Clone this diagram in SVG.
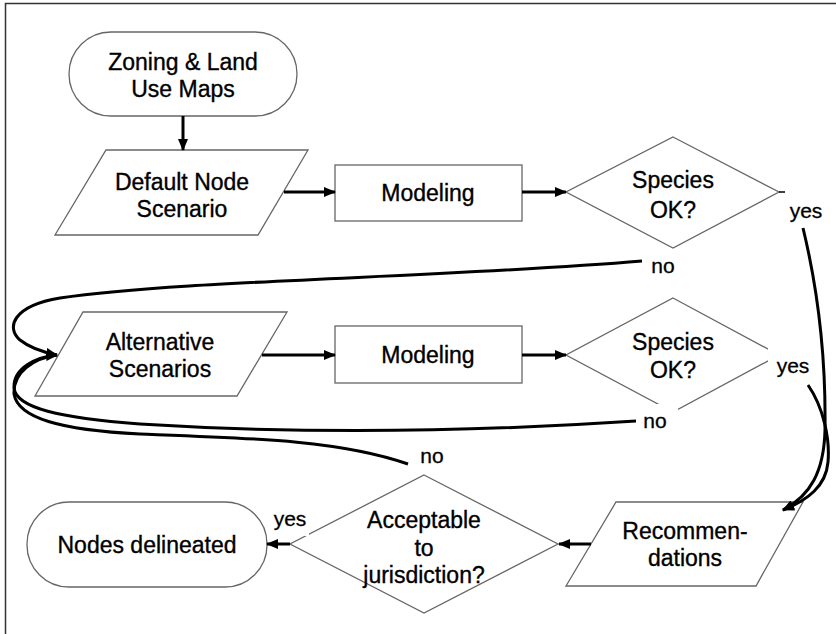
<svg xmlns="http://www.w3.org/2000/svg" width="836" height="634" viewBox="0 0 836 634">
<defs>
<style>
.shape{fill:#fff;stroke:#666;stroke-width:1.3}
.t{font-family:"Liberation Sans",Arial,sans-serif;font-size:23px;fill:#000;stroke:#000;stroke-width:0.35;text-anchor:middle}
.lbl{font-family:"Liberation Sans",Arial,sans-serif;font-size:21px;fill:#000;stroke:#000;stroke-width:0.3;text-anchor:middle}
.conn{fill:none;stroke:#000;stroke-width:3}
.mask{fill:#fff;stroke:none}
</style>
<marker id="ah" markerUnits="userSpaceOnUse" markerWidth="12" markerHeight="10" refX="11" refY="5" orient="auto">
<path d="M0,0 L12,5 L0,10 z" fill="#000"/>
</marker>
</defs>
<rect x="0" y="0" width="836" height="634" fill="#fff"/>
<rect x="5.5" y="3.5" width="840" height="640" fill="none" stroke="#333" stroke-width="1.5"/>

<g id="n_zoning">
<rect class="shape" x="69" y="32" width="228" height="84" rx="42" ry="42"/>
<text class="t" x="183" y="70">Zoning &amp; Land</text>
<text class="t" x="183" y="97">Use Maps</text>
</g>

<g id="n_default">
<polygon class="shape" points="106,150 308,150 258,235 55,235"/>
<text class="t" x="182" y="190">Default Node</text>
<text class="t" x="182" y="217">Scenario</text>
</g>

<g id="n_model1">
<rect class="shape" x="335" y="165" width="187" height="56"/>
<text class="t" x="428" y="201">Modeling</text>
</g>

<g id="n_species1">
<polygon class="shape" points="673,137 779,192 673,248 566,192"/>
<text class="t" x="673" y="188">Species</text>
<text class="t" x="673" y="218">OK?</text>
</g>

<g id="n_alt">
<polygon class="shape" points="83,312 287,312 237,396 35,396"/>
<text class="t" x="160" y="350">Alternative</text>
<text class="t" x="160" y="377">Scenarios</text>
</g>

<g id="n_model2">
<rect class="shape" x="335" y="326" width="187" height="57"/>
<text class="t" x="428" y="363">Modeling</text>
</g>

<g id="n_species2">
<polygon class="shape" points="673,298 779,355 673,412 566,355"/>
<text class="t" x="673" y="350">Species</text>
<text class="t" x="673" y="378">OK?</text>
</g>

<g id="n_recomm">
<polygon class="shape" points="616,502 803,502 756,586 566,586"/>
<text class="t" x="685" y="539">Recommen-</text>
<text class="t" x="685" y="566">dations</text>
</g>

<g id="n_accept">
<polygon class="shape" points="424,475 558,544 424,613 290,544"/>
<text class="t" x="424" y="528">Acceptable</text>
<text class="t" x="424" y="556">to</text>
<text class="t" x="424" y="583">jurisdiction?</text>
</g>

<g id="n_nodes">
<rect class="shape" x="27" y="502" width="240" height="85" rx="42" ry="42"/>
<text class="t" x="147" y="553">Nodes delineated</text>
</g>

<g id="connectors">
<line class="conn" x1="183" y1="116" x2="183" y2="150" marker-end="url(#ah)"/>
<line class="conn" x1="284" y1="192" x2="335" y2="192" marker-end="url(#ah)"/>
<line class="conn" x1="522" y1="192" x2="566" y2="192" marker-end="url(#ah)"/>
<line class="conn" x1="262" y1="355" x2="335" y2="355" marker-end="url(#ah)"/>
<line class="conn" x1="522" y1="355" x2="566" y2="355" marker-end="url(#ah)"/>
<line class="conn" x1="591" y1="544" x2="559" y2="544" marker-end="url(#ah)"/>
<line class="conn" x1="290" y1="544" x2="267" y2="544" marker-end="url(#ah)"/>
<line x1="779" y1="192" x2="785" y2="192" stroke="#000" stroke-width="1.5"/>
<path class="conn" d="M642,261 C440,278 180,280 60,298 C12,306 6,328 20,340 C30,348 42,352 57,355" marker-end="url(#ah)"/>
<path class="conn" d="M636,421 C470,432 300,434 140,424 C60,418 16,408 14,388 C13,368 36,357 57,355" marker-end="url(#ah)"/>
<path class="conn" d="M408,464 C340,440 250,438 140,434 C60,430 18,418 14,394 C13,372 34,358 57,355"/>
<path class="conn" d="M803,228 C818,290 826,360 825,430 C824,472 810,496 783,510" marker-end="url(#ah)"/>
<path class="conn" d="M808,385 C824,408 830,440 828,462 C826,486 808,500 783,510" marker-end="url(#ah)"/>
</g>

<g id="labels">
<text class="lbl" x="806" y="218">yes</text>
<text class="lbl" x="663" y="273">no</text>
<rect class="mask" x="768" y="344" width="46" height="38"/>
<text class="lbl" x="793" y="373">yes</text>
<rect class="mask" x="636" y="404" width="42" height="30"/>
<text class="lbl" x="655" y="428">no</text>
<text class="lbl" x="432" y="463">no</text>
<rect class="mask" x="273" y="508" width="36" height="28"/>
<text class="lbl" x="290" y="526">yes</text>
</g>
</svg>
